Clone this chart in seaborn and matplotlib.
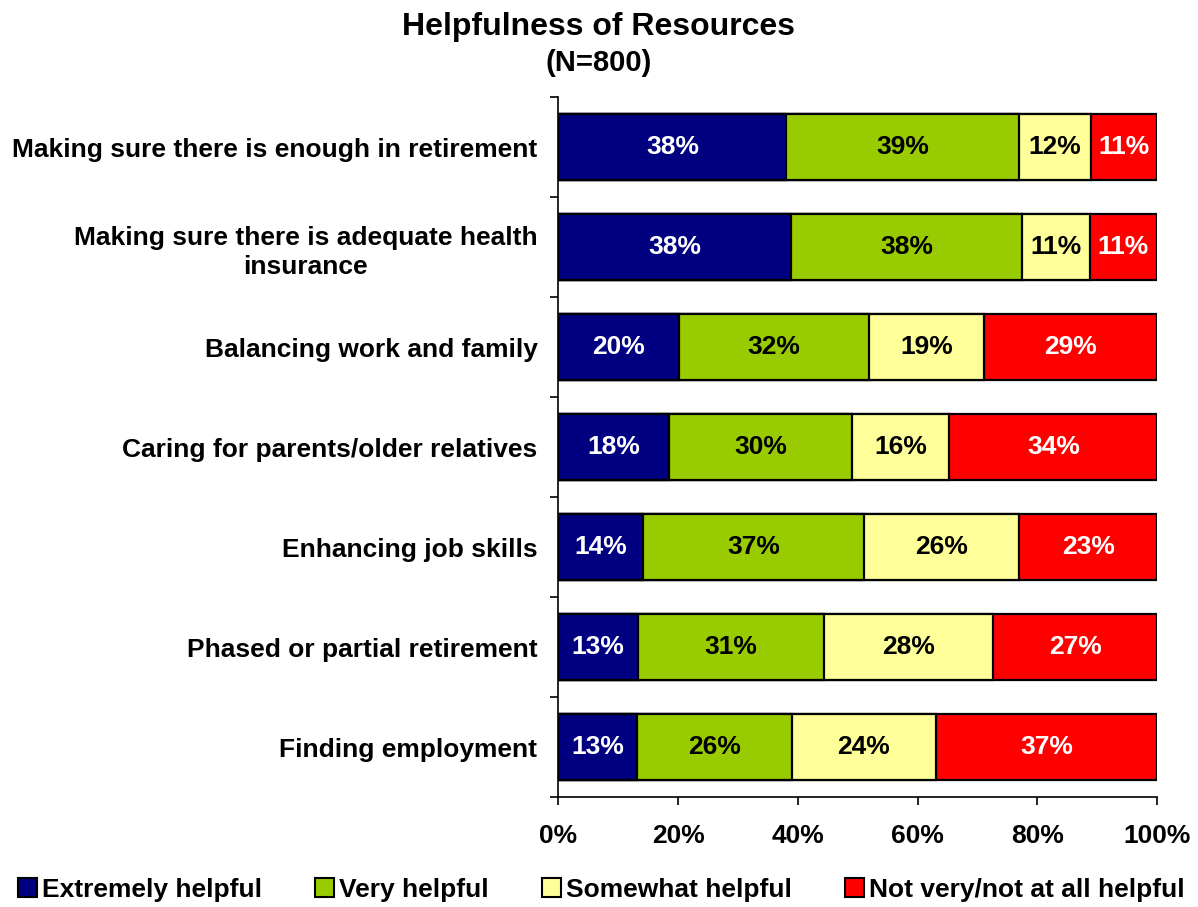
import pandas as pd
import matplotlib.pyplot as plt
import seaborn as sns
from matplotlib.patches import Patch

# ------------------------------
# Data
# ------------------------------
items = [
    "Making sure there is enough in retirement",
    "Making sure there is adequate health\ninsurance",
    "Balancing work and family",
    "Caring for parents/older relatives",
    "Enhancing job skills",
    "Phased or partial retirement",
    "Finding employment",
]
series = ["Extremely helpful", "Very helpful", "Somewhat helpful", "Not very/not at all helpful"]

# segment widths (percent)
extremely = [38.1, 38.9, 20.2, 18.5, 14.1, 13.3, 13.1]
very = [38.8, 38.6, 31.7, 30.5, 37.0, 31.1, 25.9]
somewhat = [12.0, 11.2, 19.1, 16.3, 25.9, 28.2, 24.0]
not_helpful = [11.1, 11.3, 29.0, 34.7, 23.0, 27.4, 37.0]

# printed labels
extremely_lbl = [38, 38, 20, 18, 14, 13, 13]
very_lbl = [39, 38, 32, 30, 37, 31, 26]
somewhat_lbl = [12, 11, 19, 16, 26, 28, 24]
not_helpful_lbl = [11, 11, 29, 34, 23, 27, 37]

colors = ["#000080", "#99CC00", "#FFFF99", "#FF0000"]
text_colors = ["white", "black", "black", "white"]

# ------------------------------
# Build stacked table
# ------------------------------
df = pd.DataFrame({"item": items, series[0]: extremely, series[1]: very,
                   series[2]: somewhat, series[3]: not_helpful})
cum = df[series].cumsum(axis=1)
labels = [extremely_lbl, very_lbl, somewhat_lbl, not_helpful_lbl]

# ------------------------------
# Plot
# ------------------------------
sns.set_style("white")
plt.rcParams["font.family"] = ["Liberation Sans", "DejaVu Sans"]
plt.rcParams["font.weight"] = "bold"
for key in ["text.color", "xtick.color", "ytick.color", "axes.labelcolor"]:
    plt.rcParams[key] = "black"

fig = plt.figure(figsize=(11.98, 9.07), dpi=100)
ax = fig.add_axes([0.466, 0.121, 0.500, 0.772])

# draw the cumulative bars from the longest to the shortest so they overlay
for i in reversed(range(len(series))):
    sns.barplot(x=cum[series[i]], y=df["item"], color=colors[i], orient="h",
                width=0.66, edgecolor="black", linewidth=1.6, saturation=1,
                ax=ax)

for i, s in enumerate(series):
    left = cum[s] - df[s]
    for j in range(len(items)):
        ax.text(left[j] + df[s][j] / 2, j, f"{labels[i][j]}%", ha="center",
                va="center", color=text_colors[i], fontsize=19,
                fontweight="bold")

ax.set_xlim(0, 100)
ax.set_ylim(len(items) - 0.5, -0.5)
ax.set_xticks(range(0, 101, 20))
ax.set_xticklabels([f"{v}%" for v in range(0, 101, 20)])
ax.set_yticks(range(len(items)))
ax.set_yticklabels(items, ha="right", multialignment="center", linespacing=1.3)
ax.set_yticks([j - 0.5 for j in range(len(items) + 1)], minor=True)
ax.set_xlabel("")
ax.set_ylabel("")

ax.tick_params(axis="y", which="major", length=0, pad=15, labelsize=19)
ax.tick_params(axis="y", which="minor", left=True, length=6, width=1.2, color="black")
ax.tick_params(axis="x", bottom=True, length=6, width=1.2, color="black",
               pad=13, labelsize=19)
for lbl in ax.get_xticklabels() + ax.get_yticklabels():
    lbl.set_fontweight("bold")

sns.despine(ax=ax)
for sp in ["left", "bottom"]:
    ax.spines[sp].set_color("black")
    ax.spines[sp].set_linewidth(1.2)

fig.text(0.5, 0.970, "Helpfulness of Resources", ha="center", va="center",
         fontsize=23, fontweight="bold")
fig.text(0.5, 0.931, "(N=800)", ha="center", va="center",
         fontsize=21, fontweight="bold")

handles = [Patch(facecolor=c, edgecolor="black", linewidth=1.5) for c in colors]
fig.legend(handles, series, loc="center", bbox_to_anchor=(0.502, 0.019),
           ncol=4, frameon=False, handlelength=0.72, handleheight=0.72,
           handletextpad=0.2, columnspacing=2.0,
           prop={"weight": "bold", "size": 19})

plt.savefig("out.png", dpi=100)
